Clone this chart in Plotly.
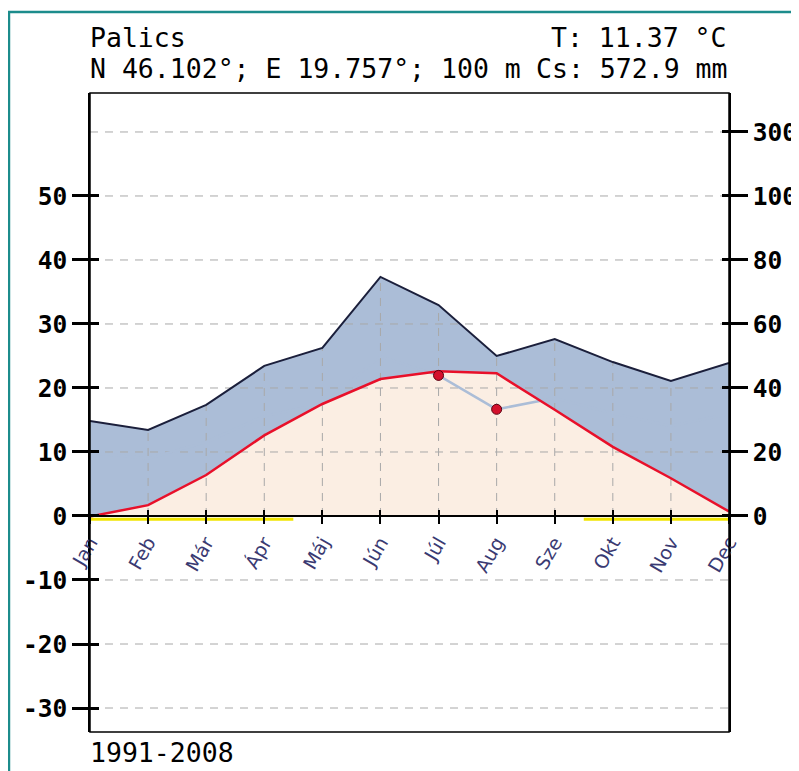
import plotly.graph_objects as go

# ---------------- data ----------------
MONTHS = ["Jan", "Feb", "Már", "Ápr", "Máj", "Jún", "Júl", "Aug", "Sze", "Okt", "Nov", "Dec"]
TEMP_C = [-0.1, 1.7, 6.4, 12.6, 17.5, 21.4, 22.6, 22.3, 16.6, 10.8, 5.9, 0.7]
PRECIP_MM = [29.7, 26.9, 34.7, 46.9, 52.5, 74.7, 65.9, 50.0, 55.3, 48.1, 42.2, 47.8]
FROST_SPANS = [(0.0, 3.5), (8.5, 11.0)]          # month-index spans marked in yellow
TEMP_TICKS = [-30, -20, -10, 0, 10, 20, 30, 40, 50]
PRECIP_TICKS = [0, 20, 40, 60, 80, 100, 300]

STATION = "Palics"
COORDS = "N 46.102°; E 19.757°; 100 m"
MEAN_T = "T: 11.37 °C"
ANNUAL_P = "Cs: 572.9 mm"
PERIOD = "1991-2008"

# Walter-Lieth scale: 10 °C = 20 mm up to 100 mm, compressed 1:10 above
def p_axis(mm):
    return mm / 2.0 if mm <= 100 else 50.0 + (mm - 100.0) / 20.0

YMIN, YMAX = -33.75, 66.09
XPOS0 = (0 - YMIN) / (YMAX - YMIN)

idx = list(range(len(MONTHS)))
precip_y = [p_axis(p) for p in PRECIP_MM]
dry_line = [p / 3.0 for p in PRECIP_MM]
dry_idx = [i for i in idx if dry_line[i] < TEMP_C[i]]

BLUE = "#abbdd7"
PEACH = "#fbeee3"
GRID = "#a8a8a8"
MONO = "DejaVu Sans Mono"

fig = go.Figure()

# fills
fig.add_trace(go.Scatter(x=idx, y=precip_y, mode="lines", line=dict(width=0, color=BLUE),
                         fill="tozeroy", fillcolor=BLUE, hoverinfo="skip", showlegend=False))
fig.add_trace(go.Scatter(x=idx, y=TEMP_C, mode="lines", line=dict(width=0, color=PEACH),
                         fill="tozeroy", fillcolor=PEACH, hoverinfo="skip", showlegend=False))

# horizontal gridlines
grid_vals = [v for v in TEMP_TICKS if v != 0] + [p_axis(PRECIP_TICKS[-1])]
gx, gy = [], []
for v in grid_vals:
    gx += [idx[0], idx[-1], None]
    gy += [v, v, None]
fig.add_trace(go.Scatter(x=gx, y=gy, mode="lines", line=dict(color=GRID, width=1, dash="8px,7px"),
                         hoverinfo="skip", showlegend=False))
# vertical gridlines inside the filled area
vx, vy = [], []
for i in idx[1:-1]:
    vx += [i, i, None]
    vy += [0, precip_y[i], None]
fig.add_trace(go.Scatter(x=vx, y=vy, mode="lines", line=dict(color=GRID, width=1, dash="8px,7px"),
                         hoverinfo="skip", showlegend=False))

# P/3 line and dry-month markers
fig.add_trace(go.Scatter(x=idx, y=dry_line, mode="lines", line=dict(color=BLUE, width=2.5),
                         hoverinfo="skip", showlegend=False))
# precipitation and temperature lines
fig.add_trace(go.Scatter(x=idx, y=precip_y, mode="lines", line=dict(color="#1b1f3b", width=2),
                         showlegend=False))
fig.add_trace(go.Scatter(x=idx, y=TEMP_C, mode="lines", line=dict(color="#e8102a", width=2.5),
                         showlegend=False))
fig.add_trace(go.Scatter(x=[idx[i] for i in dry_idx], y=[dry_line[i] for i in dry_idx],
                         mode="markers",
                         marker=dict(size=10, color="#d4102c", line=dict(color="#5a0010", width=1)),
                         showlegend=False))

# frost spans
for a, b in FROST_SPANS:
    fig.add_trace(go.Scatter(x=[a, b], y=[-0.5, -0.5], mode="lines",
                             line=dict(color="#f0e400", width=3), hoverinfo="skip", showlegend=False))

# dummy traces to activate overlay axes
for xa, ya in [("x", "y2"), ("x", "y3"), ("x", "y4"), ("x2", "y")]:
    fig.add_trace(go.Scatter(x=[None], y=[None], xaxis=xa, yaxis=ya, showlegend=False, hoverinfo="skip"))

tick_font = dict(family=MONO, size=24.5, color="black", weight="bold")
temp_tickvals = TEMP_TICKS
precip_tickvals = [p_axis(v) for v in PRECIP_TICKS]

fig.update_layout(
    width=791, height=763,
    margin=dict(l=82, r=70, t=85, b=39, autoexpand=False),
    paper_bgcolor="white", plot_bgcolor="white",
    xaxis=dict(range=[0, 11], anchor="free", position=XPOS0, automargin=False,
               tickvals=idx, ticktext=MONTHS, tickangle=-60,
               tickfont=dict(family="DejaVu Sans", size=19, color="#3a3a72"),
               ticks="outside", ticklen=7, tickwidth=2, tickcolor="black",
               showline=True, linecolor="black", linewidth=2,
               showgrid=False, zeroline=False, layer="above traces"),
    xaxis2=dict(range=[0, 11], overlaying="x", anchor="free", position=XPOS0, automargin=False,
                tickvals=idx, ticks="inside", ticklen=6, tickwidth=2, tickcolor="black",
                showticklabels=False, showline=False, showgrid=False, zeroline=False,
                layer="above traces"),
    yaxis=dict(range=[YMIN, YMAX], tickvals=temp_tickvals, ticktext=[str(v) for v in TEMP_TICKS],
               automargin=False,
               ticks="outside", ticklen=16, tickwidth=3, tickcolor="black",
               tickfont=tick_font, showline=True, linecolor="black", linewidth=1.5,
               showgrid=False, zeroline=False, layer="above traces"),
    yaxis2=dict(range=[YMIN, YMAX], overlaying="y", side="right", anchor="x", automargin=False,
                tickvals=precip_tickvals, ticktext=[str(v) for v in PRECIP_TICKS],
                ticks="outside", ticklen=17, tickwidth=3, tickcolor="black",
                tickfont=tick_font, showline=True, linecolor="black", linewidth=1.5,
                showgrid=False, zeroline=False, layer="above traces"),
    yaxis3=dict(range=[YMIN, YMAX], overlaying="y", side="left", anchor="x", automargin=False,
                tickvals=temp_tickvals, ticks="inside", ticklen=9, tickwidth=3, tickcolor="black",
                showticklabels=False, showline=False, showgrid=False, zeroline=False,
                layer="above traces"),
    yaxis4=dict(range=[YMIN, YMAX], overlaying="y", side="right", anchor="x", automargin=False,
                tickvals=precip_tickvals, ticks="inside", ticklen=7, tickwidth=3, tickcolor="black",
                showticklabels=False, showline=False, showgrid=False, zeroline=False,
                layer="above traces"),
    showlegend=False,
)

# plot frame and outer teal frame
fig.add_shape(type="rect", xref="paper", yref="paper", x0=0, x1=1, y0=0, y1=1,
              line=dict(color="black", width=1.5), layer="above")
fig.add_shape(type="rect", xref="paper", yref="paper", x0=-0.1268, x1=1.13, y0=-0.2, y1=1.1268,
              line=dict(color="#1c8c8c", width=2.5), layer="above")

head_font = dict(family=MONO, size=26.5, color="black")
fig.add_annotation(text=STATION, xref="paper", yref="paper", x=-0.003, y=1.0876,
                   xanchor="left", yanchor="middle", showarrow=False, font=head_font)
fig.add_annotation(text=MEAN_T, xref="paper", yref="paper", x=1.0, y=1.0876,
                   xanchor="right", yanchor="middle", showarrow=False, font=head_font)
fig.add_annotation(text=COORDS, xref="paper", yref="paper", x=-0.003, y=1.0376,
                   xanchor="left", yanchor="middle", showarrow=False, font=head_font)
fig.add_annotation(text=ANNUAL_P, xref="paper", yref="paper", x=1.0, y=1.0376,
                   xanchor="right", yanchor="middle", showarrow=False, font=head_font)
fig.add_annotation(text=PERIOD, xref="paper", yref="paper", x=-0.003, y=-0.0313,
                   xanchor="left", yanchor="middle", showarrow=False, font=head_font)

fig.write_html("out.html")
